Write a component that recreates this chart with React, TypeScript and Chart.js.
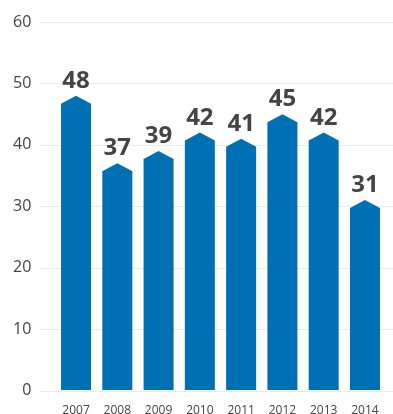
import React, { useEffect, useRef } from "react";
import { Chart, registerables } from "chart.js";

Chart.register(...registerables);

const years = ["2007", "2008", "2009", "2010", "2011", "2012", "2013", "2014"];
const values = [48, 37, 39, 42, 41, 45, 42, 31];
const yMin = 0;
const yMax = 60;
const yStep = 10;

const BAR_COLOR = "#0070b4";
const TEXT_COLOR = "#444444";
const GRID_COLOR = "#ebebeb";
const FONT = "'Open Sans', sans-serif";

const arrowBars = {
  id: "arrowBars",
  beforeDatasetsDraw(chart: any) {
    const { ctx, chartArea } = chart;
    const yScale = chart.scales.y;
    ctx.save();
    ctx.strokeStyle = GRID_COLOR;
    ctx.lineWidth = 1;
    yScale.ticks.forEach((t: any) => {
      const y = Math.round(yScale.getPixelForValue(t.value)) + 0.5;
      ctx.beginPath();
      ctx.moveTo(chartArea.left - 16, y);
      ctx.lineTo(chart.width, y);
      ctx.stroke();
    });
    ctx.restore();
  },
  afterDatasetsDraw(chart: any) {
    const { ctx } = chart;
    const meta = chart.getDatasetMeta(0);
    const tip = 8;
    ctx.save();
    meta.data.forEach((bar: any, i: number) => {
      const { x, y, base, width } = bar.getProps(["x", "y", "base", "width"], true);
      const l = x - width / 2;
      const r = x + width / 2;
      ctx.fillStyle = BAR_COLOR;
      ctx.beginPath();
      ctx.moveTo(l, base);
      ctx.lineTo(l, y + tip);
      ctx.lineTo(x, y);
      ctx.lineTo(r, y + tip);
      ctx.lineTo(r, base);
      ctx.closePath();
      ctx.fill();
      ctx.fillStyle = TEXT_COLOR;
      ctx.font = `bold 24px ${FONT}`;
      ctx.textAlign = "center";
      ctx.textBaseline = "alphabetic";
      ctx.fillText(String(values[i]), x, y - 8);
    });
    ctx.restore();
  },
};

export default function App() {
  const canvasRef = useRef<HTMLCanvasElement | null>(null);

  useEffect(() => {
    document.body.style.margin = "0";
    const canvas = canvasRef.current;
    if (!canvas) return;
    const chart = new Chart(canvas, {
      type: "bar",
      data: {
        labels: years,
        datasets: [
          {
            data: values,
            backgroundColor: "rgba(0,0,0,0)",
            borderWidth: 0,
            barPercentage: 0.727,
            categoryPercentage: 1,
          },
        ],
      },
      options: {
        animation: false,
        responsive: false,
        maintainAspectRatio: false,
        devicePixelRatio: 1,
        layout: { padding: { top: 22, right: 7.4, left: 0, bottom: 0 } },
        plugins: {
          legend: { display: false },
          tooltip: { enabled: false },
        },
        scales: {
          x: {
            grid: { display: false, drawTicks: false },
            border: { display: false },
            ticks: {
              color: TEXT_COLOR,
              font: { family: FONT, size: 12 },
              padding: 13,
              maxRotation: 0,
            },
            afterFit(scale: any) {
              scale.height = 23.5;
            },
          },
          y: {
            min: yMin,
            max: yMax,
            grid: {
              display: true,
              drawOnChartArea: false,
              drawTicks: true,
              tickLength: 16,
              color: "rgba(0,0,0,0)",
            },
            border: { display: false },
            ticks: {
              stepSize: yStep,
              color: TEXT_COLOR,
              font: { family: FONT, size: 16 },
              padding: 8,
            },
            afterFit(scale: any) {
              scale.width = 55.4;
            },
          },
        },
      },
      plugins: [arrowBars],
    });
    return () => chart.destroy();
  }, []);

  return (
    <div style={{ width: 393, height: 414 }}>
      <canvas ref={canvasRef} width={393} height={414} style={{ display: "block" }} />
    </div>
  );
}
